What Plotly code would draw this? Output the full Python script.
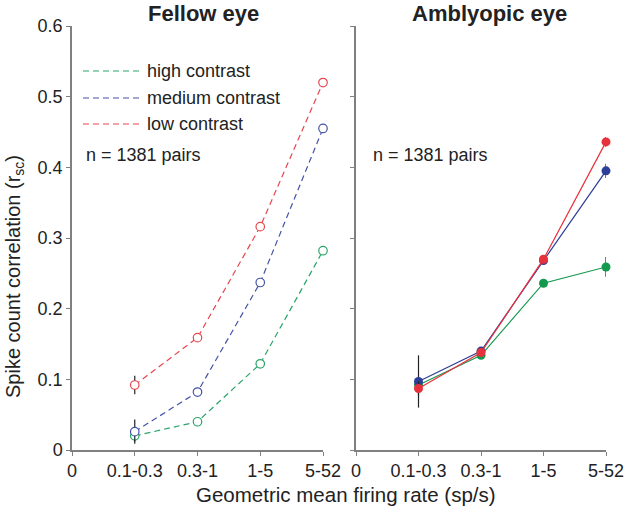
import plotly.graph_objects as go

categories = ["0.1-0.3", "0.3-1", "1-5", "5-52"]
tick_labels = ["0", "0.1-0.3", "0.3-1", "1-5", "5-52"]
series_names = ["high contrast", "medium contrast", "low contrast"]

fellow_high = [0.020, 0.040, 0.122, 0.282]
fellow_medium = [0.026, 0.082, 0.237, 0.455]
fellow_low = [0.092, 0.159, 0.316, 0.520]
fellow_high_err = [0.008, 0.004, 0.003, 0.003]
fellow_medium_err = [0.017, 0.006, 0.004, 0.004]
fellow_low_err = [0.013, 0.005, 0.004, 0.005]

amb_high = [0.092, 0.134, 0.236, 0.259]
amb_medium = [0.097, 0.140, 0.268, 0.395]
amb_low = [0.087, 0.138, 0.270, 0.436]
amb_high_err = [0.010, 0.004, 0.004, 0.014]
amb_medium_err = [0.037, 0.005, 0.004, 0.010]
amb_low_err = [0.010, 0.004, 0.004, 0.007]

colors = ["#14994f", "#2d3f98", "#e8323b"]
fellow_colors = ["#2aa56a", "#4553a6", "#e5474f"]

xpos = [1, 2, 3, 4]
FONT = "Liberation Sans, Arial, sans-serif"
TXT = "#222222"

W, H = 625, 515
# plot area in page pixels
L, R, T, B = 72, 606, 26, 450
def px(x):
    return (x - L) / (R - L)
def py(y):
    return 1 - (y - T) / (B - T)

fig = go.Figure()

fellow = [(fellow_high, fellow_high_err), (fellow_medium, fellow_medium_err), (fellow_low, fellow_low_err)]
amb = [(amb_high, amb_high_err), (amb_medium, amb_medium_err), (amb_low, amb_low_err)]

for i, (vals, errs) in enumerate(fellow):
    fig.add_trace(go.Scatter(
        x=xpos, y=vals, xaxis="x", yaxis="y", name=series_names[i],
        mode="lines+markers",
        line=dict(color=fellow_colors[i], width=1.2, dash="6px,4px"),
        marker=dict(symbol="circle", size=8.5, color="white",
                    line=dict(width=1.2, color=fellow_colors[i])),
        error_y=dict(type="data", array=errs, color="#222222", thickness=1.2, width=0),
        cliponaxis=False, showlegend=False,
    ))

for i, (vals, errs) in enumerate(amb):
    fig.add_trace(go.Scatter(
        x=xpos, y=vals, xaxis="x2", yaxis="y2", name=series_names[i],
        mode="lines+markers",
        line=dict(color=colors[i], width=1.2),
        marker=dict(symbol="circle", size=9, color=colors[i]),
        error_y=dict(type="data", array=errs, color="#222222", thickness=1.2, width=0),
        cliponaxis=False, showlegend=False,
    ))

axis_common = dict(
    range=[0, 4], tickvals=[0, 1, 2, 3, 4], ticktext=tick_labels,
    showline=True, linecolor="#808080", linewidth=1.5, ticks="outside",
    ticklen=4, tickcolor="#808080", tickwidth=1.2, showgrid=False, zeroline=False,
    tickfont=dict(size=18, color=TXT, family=FONT),
)
yaxis_common = dict(
    range=[0, 0.6], tickvals=[0, 0.1, 0.2, 0.3, 0.4, 0.5, 0.6],
    showline=True, linecolor="#808080", linewidth=1.5, ticks="outside",
    ticklen=4, tickcolor="#808080", tickwidth=1.2, showgrid=False, zeroline=False,
    tickfont=dict(size=18, color=TXT, family=FONT),
)

fig.update_layout(
    width=W, height=H,
    margin=dict(l=L, r=W - R, t=T, b=H - B, autoexpand=False),
    plot_bgcolor="white", paper_bgcolor="white",
    font=dict(family=FONT, color=TXT),
    xaxis=dict(domain=[0, px(323)], anchor="y", **axis_common),
    xaxis2=dict(domain=[px(356), 1], anchor="y2", **axis_common),
    yaxis=dict(domain=[0, 1], anchor="x", ticktext=["0", "0.1", "0.2", "0.3", "0.4", "0.5", "0.6"], **yaxis_common),
    yaxis2=dict(domain=[0, 1], anchor="x2", showticklabels=False, **yaxis_common),
    showlegend=False,
)

# legend drawn manually (dashed line samples + labels)
leg_y = [71, 98, 124]
for i, name in enumerate(series_names):
    fig.add_shape(type="line", xref="paper", yref="paper",
                  x0=px(83), x1=px(140), y0=py(leg_y[i]), y1=py(leg_y[i]),
                  line=dict(color=fellow_colors[i], width=1.2, dash="6px,4px"))
    fig.add_annotation(text=name, xref="paper", yref="paper", x=px(145), y=py(leg_y[i]),
                       showarrow=False, xanchor="left", yanchor="middle",
                       font=dict(size=18, family=FONT, color=TXT))

fig.add_annotation(text="<b>Fellow eye</b>", xref="paper", yref="paper", x=px(203), y=py(14),
                   showarrow=False, xanchor="center", yanchor="middle",
                   font=dict(size=22, family=FONT, color=TXT))
fig.add_annotation(text="<b>Amblyopic eye</b>", xref="paper", yref="paper", x=px(489), y=py(14),
                   showarrow=False, xanchor="center", yanchor="middle",
                   font=dict(size=22, family=FONT, color=TXT))

fig.add_annotation(text="n = 1381 pairs", xref="paper", yref="paper", x=px(84), y=py(155),
                   showarrow=False, xanchor="left", yanchor="middle",
                   font=dict(size=18, family=FONT, color=TXT))
fig.add_annotation(text="n = 1381 pairs", xref="paper", yref="paper", x=px(371), y=py(155),
                   showarrow=False, xanchor="left", yanchor="middle",
                   font=dict(size=18, family=FONT, color=TXT))

fig.add_annotation(text="Spike count correlation (r<sub>sc</sub>)", xref="paper", yref="paper",
                   x=px(14), y=py(277), textangle=-90, showarrow=False,
                   xanchor="center", yanchor="middle",
                   font=dict(size=20, family=FONT, color=TXT))
fig.add_annotation(text="Geometric mean firing rate (sp/s)", xref="paper", yref="paper",
                   x=px(346), y=py(494), showarrow=False,
                   xanchor="center", yanchor="middle",
                   font=dict(size=20.5, family=FONT, color=TXT))

fig.write_html("out.html", config={"displayModeBar": False},
               post_script="document.body.style.margin='0';document.body.style.overflow='hidden';")
